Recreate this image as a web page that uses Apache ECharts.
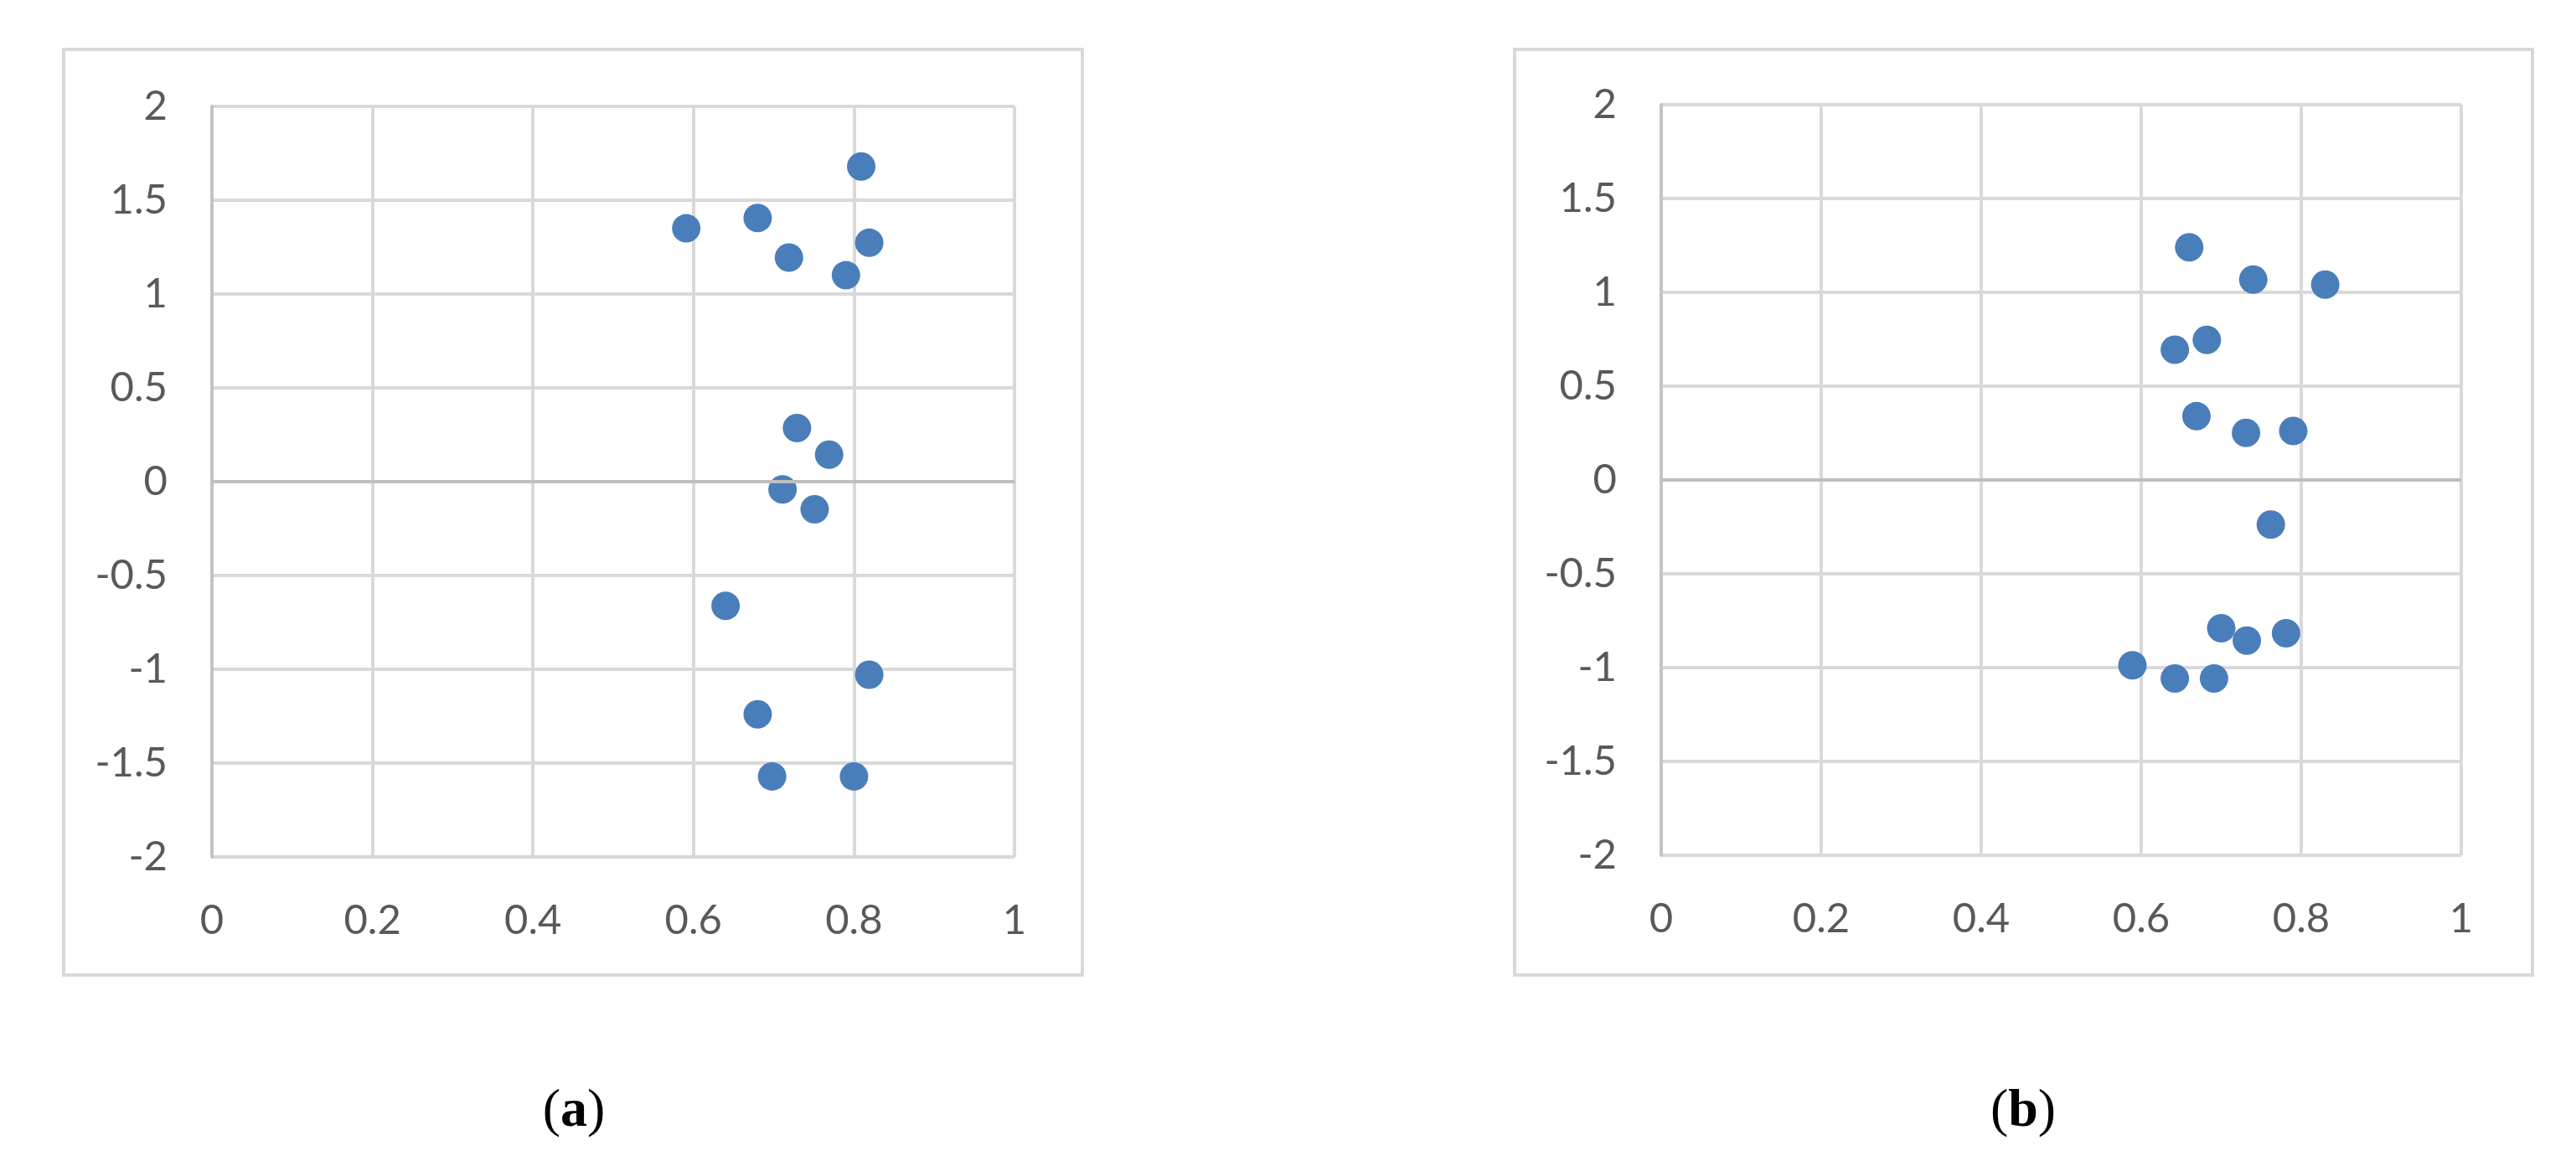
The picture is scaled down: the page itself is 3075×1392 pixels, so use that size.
<!DOCTYPE html>
<html>
<head>
<meta charset="utf-8">
<script src="https://cdn.jsdelivr.net/npm/echarts@6/dist/echarts.min.js"></script>
<style>
  html, body { margin: 0; padding: 0; background: #fff; }
  #main { width: 3075px; height: 1392px; }
</style>
</head>
<body>
<div id="main"></div>
<script>
// panel (a)
var xA = [0.809, 0.591, 0.680, 0.719, 0.819, 0.790, 0.729, 0.769, 0.711, 0.751, 0.640, 0.819, 0.680, 0.698, 0.800];
var yA = [1.68, 1.35, 1.405, 1.194, 1.273, 1.10, 0.286, 0.144, -0.041, -0.147, -0.662, -1.029, -1.24, -1.571, -1.571];
// panel (b)
var xB = [0.660, 0.740, 0.830, 0.642, 0.682, 0.669, 0.731, 0.790, 0.762, 0.700, 0.732, 0.781, 0.589, 0.642, 0.691];
var yB = [1.24, 1.068, 1.041, 0.694, 0.747, 0.340, 0.251, 0.261, -0.238, -0.79, -0.856, -0.817, -0.988, -1.058, -1.058];
var panelNames = ['a', 'b'];

function zip(xs, ys) {
    return xs.map(function (x, i) { return [x, ys[i]]; });
}

var labelStyle = { color: '#595959', fontFamily: 'Lato', fontSize: 49 };

function xAxisFor(idx) {
    return {
        type: 'value', gridIndex: idx, min: 0, max: 1, interval: 0.2,
        axisLine: { show: false },
        axisTick: { show: false },
        axisLabel: Object.assign({ margin: 52 }, labelStyle),
        splitLine: { lineStyle: { color: '#d9d9d9', width: 4 } }
    };
}
function yAxisFor(idx) {
    return {
        type: 'value', gridIndex: idx, min: -2, max: 2, interval: 0.5,
        axisLine: { show: true, lineStyle: { color: '#c4c4c4', width: 4 } },
        axisTick: { show: false },
        axisLabel: Object.assign({ margin: 53 }, labelStyle),
        splitLine: { lineStyle: { color: '#d9d9d9', width: 4 } }
    };
}
function seriesFor(idx, data) {
    return {
        type: 'scatter', xAxisIndex: idx, yAxisIndex: idx,
        symbolSize: 34,
        itemStyle: { color: '#4a7ebb', opacity: 1 },
        data: data,
        markLine: {
            silent: true, symbol: 'none', label: { show: false },
            lineStyle: { color: '#bfbfbf', width: 4, type: 'solid', opacity: 1 },
            data: [{ yAxis: 0 }]
        },
        z: 3
    };
}
function panelBox(x, w) {
    return {
        type: 'rect', shape: { x: x, y: 59, width: w, height: 1105 },
        style: { fill: 'none', stroke: '#d9d9d9', lineWidth: 4 }
    };
}
function panelLabel(x, name) {
    return {
        type: 'text', x: x, y: 1327,
        style: {
            text: '({b|' + name + '})',
            align: 'center', verticalAlign: 'middle',
            font: '64px "Liberation Serif"', fill: '#000',
            rich: { b: { fontWeight: 'bold', fontSize: 64, fontFamily: 'Liberation Serif', fill: '#000' } }
        }
    };
}

var option = {
    animation: false,
    grid: [
        { left: 253, top: 127, width: 958, height: 896 },
        { left: 1983, top: 125, width: 955, height: 896 }
    ],
    xAxis: [xAxisFor(0), xAxisFor(1)],
    yAxis: [yAxisFor(0), yAxisFor(1)],
    series: [seriesFor(0, zip(xA, yA)), seriesFor(1, zip(xB, yB))],
    graphic: [
        panelBox(76, 1216), panelBox(1808, 1215),
        panelLabel(685, panelNames[0]), panelLabel(2415, panelNames[1])
    ]
};

echarts.init(document.getElementById('main')).setOption(option);
</script>
</body>
</html>
